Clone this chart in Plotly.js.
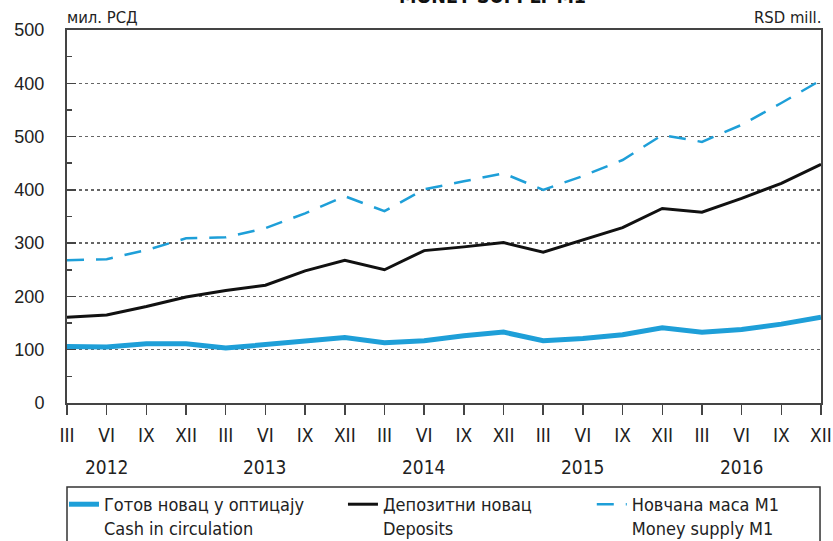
<!DOCTYPE html>
<html>
<head>
<meta charset="utf-8">
<script src="https://cdn.plot.ly/plotly-3.0.1.min.js"></script>
<style>html,body{margin:0;padding:0;background:#fff;}#chart{width:833px;height:541px;}</style>
</head>
<body>
<div id="chart"></div>
<script>
// Quarter labels (III 2012 ... XII 2016)
const quarters = ["III","VI","IX","XII","III","VI","IX","XII","III","VI","IX","XII","III","VI","IX","XII","III","VI","IX","XII"];
const years = ["2012","2013","2014","2015","2016"];
const yearPos = [1, 5, 9, 13, 17]; // index of the VI quarter of each year

// Series values, RSD bn
const cash = [106,105,111,111,103,109,115,123,113,117,126,133,117,121,128,141,133,138,148,161];
const deposits = [161,165,181,199,211,221,248,268,250,286,293,301,283,306,329,365,358,384,412,448];
const m1 = [268,270,287,309,311,328,356,388,360,401,416,431,400,426,456,503,490,522,563,606];

// Y tick labels as printed in the picture
const yTickVals = [0,100,200,300,400,500,600,700];
const yTickText = ["0","100","200","300","400","500","400","500"];

const seriesNames = [
  "Готов новац у оптицају<br>Cash in circulation",
  "Депозитни новац<br>Deposits",
  "Новчана маса M1<br>Money supply M1"
];

const xIdx = quarters.map((_, i) => i);
const BLUE = "#1e9fd8";
const FONT = "Liberation Sans Narrow, DejaVu Sans Condensed, Liberation Sans, Arial, sans-serif";

const traces = [
  {x: xIdx, y: cash, type: "scatter", mode: "lines", name: seriesNames[0], legend: "legend",
   line: {color: BLUE, width: 5}},
  {x: xIdx, y: deposits, type: "scatter", mode: "lines", name: seriesNames[1], legend: "legend2",
   line: {color: "#111", width: 3}},
  {x: xIdx, y: m1, type: "scatter", mode: "lines", name: seriesNames[2], legend: "legend3",
   line: {color: BLUE, width: 2.5, dash: "17px,12px"}}
];

const annotations = years.map((yr, i) => ({
  text: yr, x: yearPos[i], xref: "x", y: 0, yref: "y",
  yanchor: "middle", xanchor: "center", showarrow: false, yshift: -64,
  font: {family: FONT, size: 19, color: "#222"}
}));
annotations.push(
  {text: "мил. РСД", x: 0, xref: "paper", y: 1, yref: "paper", xanchor: "left", yanchor: "bottom",
   showarrow: false, yshift: 1, xshift: -2, font: {family: FONT, size: 16.5, color: "#222"}},
  {text: "RSD mill.", x: 1, xref: "paper", y: 1, yref: "paper", xanchor: "right", yanchor: "bottom",
   showarrow: false, yshift: 1, xshift: 2, font: {family: FONT, size: 16.5, color: "#222"}},
  {text: "<b>MONEY SUPPLY M1</b>", x: 0.564, xref: "paper", y: 1, yref: "paper", xanchor: "center", yanchor: "bottom",
   showarrow: false, yshift: 20, font: {family: FONT, size: 19.5, color: "#111"}}
);

const legendBase = {
  orientation: "v", xanchor: "left", y: 0.0898, yanchor: "top", yref: "paper",
  bgcolor: "rgba(0,0,0,0)", borderwidth: 0,
  font: {family: FONT, size: 18, color: "#222"}, valign: "top"
};

const layout = {
  width: 833, height: 541,
  margin: {l: 67, r: 12, t: 30, b: 10, autoexpand: false},
  paper_bgcolor: "#fff", plot_bgcolor: "#fff",
  font: {family: FONT, color: "#222"},
  showlegend: true,
  legend: Object.assign({}, legendBase, {x: -0.004}),
  legend2: Object.assign({}, legendBase, {x: 0.366}),
  legend3: Object.assign({}, legendBase, {x: 0.696}),
  shapes: [{
    type: "rect", xref: "paper", yref: "paper", x0: 0, x1: 0.9987, y0: 0.0878, y1: -0.2,
    line: {color: "#333", width: 1.5}, fillcolor: "rgba(0,0,0,0)", layer: "below"
  }],
  xaxis: {
    range: [0, 19], tickmode: "array", tickvals: xIdx, ticktext: quarters,
    ticks: "outside", ticklen: 10, tickwidth: 1.5, tickcolor: "#444",
    showline: true, linecolor: "#444", linewidth: 2, mirror: true,
    showgrid: false, zeroline: false, fixedrange: true,
    tickfont: {family: FONT, size: 19, color: "#222"}, ticklabelstandoff: 4
  },
  yaxis: {
    domain: [0.2555, 1], range: [0, 700],
    tickmode: "array", tickvals: yTickVals, ticktext: yTickText,
    ticks: "inside", ticklen: 9, tickwidth: 1.5, tickcolor: "#444",
    minor: {dtick: 50, ticks: "inside", ticklen: 5, tickwidth: 1.5, tickcolor: "#444", showgrid: false},
    showline: true, linecolor: "#444", linewidth: 2, mirror: true,
    showgrid: true, gridcolor: "#666", gridwidth: 1.5, griddash: "dot",
    zeroline: false, fixedrange: true,
    tickfont: {family: "Liberation Sans, Arial, sans-serif", size: 18, color: "#222"}, ticklabelstandoff: 17
  },
  annotations: annotations
};

Plotly.newPlot("chart", traces, layout, {displayModeBar: false, staticPlot: true});
</script>
</body>
</html>
